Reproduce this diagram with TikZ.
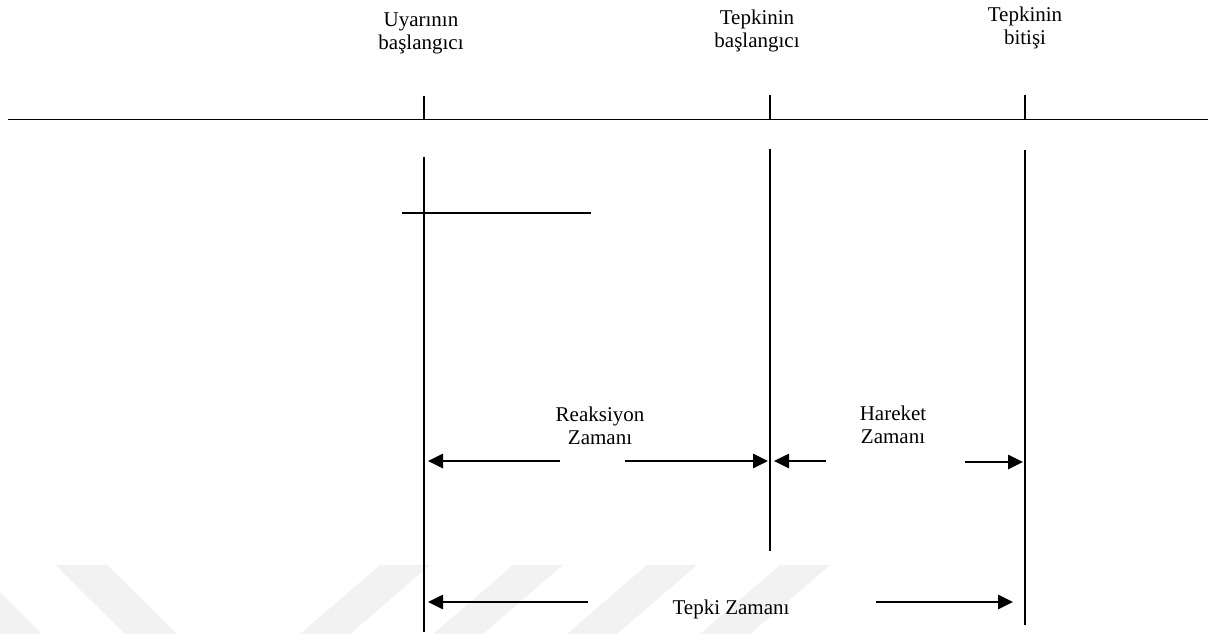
\documentclass[tikz,border=0pt]{standalone}
\usepackage{fontspec}
\setmainfont{Liberation Serif}
\usetikzlibrary{arrows.meta}
\begin{document}
\begin{tikzpicture}[x=1pt,y=-1pt,
  lbl/.style={font=\fontsize{21}{23}\selectfont, align=center, inner sep=0pt},
  axisline/.style={line width=1.9pt},
  tickline/.style={line width=1.7pt},
  vline/.style={line width=1.6pt},
  dimarrow/.style={line width=2.6pt, -{Triangle[length=15pt,width=14pt]}},
  wm/.style={fill=black!5, draw=none}]
\useasboundingbox (0,0) rectangle (1216,634);

% faint stripes along the bottom edge
\fill[wm] (0,592) -- (42,634) -- (0,634) -- cycle;
\fill[wm] (55,565) -- (107,565) -- (177,634) -- (125,634) -- cycle;
\foreach \x in {380,513,647,780}
  \fill[wm] (\x,565) -- (\x+50,565) -- (\x-30,634) -- (\x-80,634) -- cycle;

% time axis with event ticks
\coordinate (axL) at (8,119.5);
\coordinate (axR) at (1208,119.5);
\draw[axisline] (axL) -- (axR);

\coordinate (t1) at (424,96);   \coordinate (b1) at (424,119.5);
\coordinate (t2) at (770,95);   \coordinate (b2) at (770,119.5);
\coordinate (t3) at (1025,95);  \coordinate (b3) at (1025,119.5);
\draw[tickline] (t1) -- (b1);
\draw[tickline] (t2) -- (b2);
\draw[tickline] (t3) -- (b3);

% event labels
\node[lbl] (stim) at (421,33) {Uyarının\\başlangıcı};
\node[lbl] (rstart) at (757,31) {Tepkinin\\başlangıcı};
\node[lbl] (rend) at (1025,28) {Tepkinin\\bitişi};

% vertical markers
\coordinate (v1a) at (424,157);  \coordinate (v1b) at (424,632);
\coordinate (v2a) at (770,149);  \coordinate (v2b) at (770,551);
\coordinate (v3a) at (1025,150); \coordinate (v3b) at (1025,625);
\draw[vline] (v1a) -- (v1b);
\draw[vline] (v2a) -- (v2b);
\draw[vline] (v3a) -- (v3b);

\coordinate (hA) at (402,213);
\coordinate (hB) at (591,213);
\draw[axisline] (hA) -- (hB);

% interval labels
\node[lbl] (rt) at (600,426) {Reaksiyon\\Zamanı};
\node[lbl] (mt) at (893,425) {Hareket\\Zamanı};
\node[lbl, anchor=base] (tt) at (731,614) {Tepki Zamanı};

% interval arrows
\coordinate (r1s) at (560,461);  \coordinate (r1e) at (428,461);
\coordinate (r2s) at (625,461);  \coordinate (r2e) at (768,461);
\coordinate (m1s) at (826,461);  \coordinate (m1e) at (774,461);
\coordinate (m2s) at (965,462);  \coordinate (m2e) at (1023,462);
\coordinate (p1s) at (588,602);  \coordinate (p1e) at (428,602);
\coordinate (p2s) at (876,602);  \coordinate (p2e) at (1013,602);
\draw[dimarrow] (r1s) -- (r1e);
\draw[dimarrow] (r2s) -- (r2e);
\draw[dimarrow] (m1s) -- (m1e);
\draw[dimarrow] (m2s) -- (m2e);
\draw[dimarrow] (p1s) -- (p1e);
\draw[dimarrow] (p2s) -- (p2e);
\end{tikzpicture}
\end{document}
